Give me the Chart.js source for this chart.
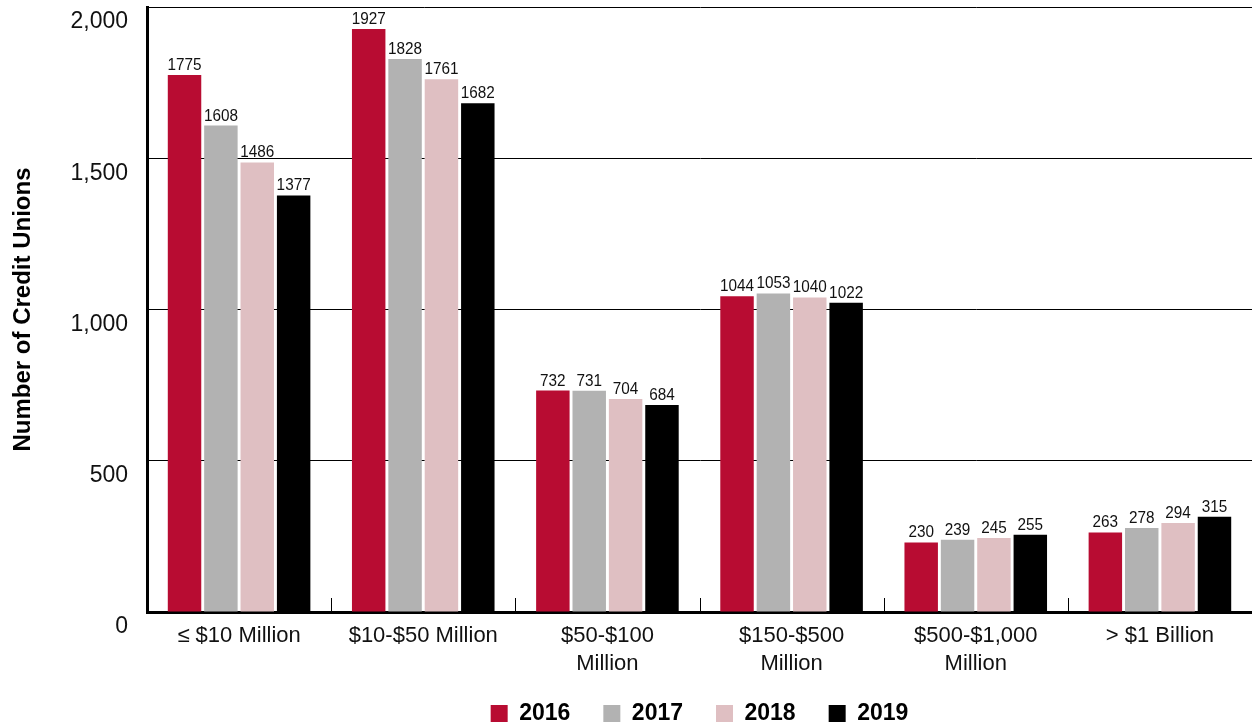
<!DOCTYPE html>
<html>
<head>
<meta charset="utf-8">
<script src="https://cdn.jsdelivr.net/npm/chart.js@4/dist/chart.umd.min.js"></script>
<style>
html,body{margin:0;padding:0;background:#fff;}
#wrap{width:1252px;height:726px;position:relative;}
</style>
</head>
<body>
<div id="wrap"><canvas id="c" width="1252" height="726"></canvas></div>
<script>
const categories = ["≤ $10 Million", "$10-$50 Million", ["$50-$100", "Million"], ["$150-$500", "Million"], ["$500-$1,000", "Million"], "> $1 Billion"];
const years = ["2016", "2017", "2018", "2019"];
const values2016 = [1775, 1927, 732, 1044, 230, 263];
const values2017 = [1608, 1828, 731, 1053, 239, 278];
const values2018 = [1486, 1761, 704, 1040, 245, 294];
const values2019 = [1377, 1682, 684, 1022, 255, 315];
const colors = ["#B80C32", "#B2B2B2", "#DFBFC2", "#000000"];
const yTicks = [0, 500, 1000, 1500, 2000];

const FONT = "'Liberation Sans', Arial, Helvetica, sans-serif";

const valueLabels = {
  id: 'valueLabels',
  afterDatasetsDraw(chart) {
    const ctx = chart.ctx;
    chart.data.datasets.forEach((ds, di) => {
      const meta = chart.getDatasetMeta(di);
      meta.data.forEach((bar, i) => {
        ctx.save();
        ctx.font = "17px " + FONT;
        ctx.fillStyle = "#111";
        ctx.textAlign = "center";
        ctx.textBaseline = "alphabetic";
        ctx.translate(bar.x, bar.y - 5);
        ctx.scale(0.9, 1);
        ctx.fillText(String(ds.data[i]), 0, 0);
        ctx.restore();
      });
    });
  }
};

const catTicks = {
  id: 'catTicks',
  afterDraw(chart) {
    const xs = chart.scales.x;
    const bottom = chart.chartArea.bottom;
    const ctx = chart.ctx;
    ctx.save();
    ctx.strokeStyle = "#000";
    ctx.lineWidth = 1;
    for (let i = 1; i < categories.length; i++) {
      const x = Math.round((xs.getPixelForValue(i - 1) + xs.getPixelForValue(i)) / 2) + 0.5;
      ctx.beginPath();
      ctx.moveTo(x, bottom);
      ctx.lineTo(x, bottom - 14);
      ctx.stroke();
    }
    ctx.restore();
  }
};

const seriesData = [values2016, values2017, values2018, values2019];

new Chart(document.getElementById('c'), {
  type: 'bar',
  data: {
    labels: categories,
    datasets: years.map((y, k) => ({
      label: y,
      data: seriesData[k],
      backgroundColor: colors[k],
      borderWidth: 0,
      categoryPercentage: 0.79,
      barPercentage: 0.92
    }))
  },
  options: {
    responsive: false,
    animation: false,
    devicePixelRatio: 1,
    layout: { padding: { top: 7, right: 0, left: 0, bottom: -9 } },
    plugins: {
      tooltip: { enabled: false },
      legend: {
        position: 'bottom',
        fullSize: false,
        labels: {
          boxWidth: 17,
          boxHeight: 17,
          padding: 33,
          color: "#000",
          font: { family: FONT, size: 23, weight: 'bold' }
        }
      }
    },
    scales: {
      x: {
        grid: { display: false, drawTicks: false },
        border: { display: true, color: "#000", width: 3 },
        ticks: {
          color: "#111",
          padding: 10,
          autoSkip: false,
          maxRotation: 0,
          font: { family: FONT, size: 22, lineHeight: 1.28 }
        },
        afterFit(s) {
          s.height = 57; s.paddingLeft = 0; s.paddingRight = 0;
          s._computeLabelArea = function () { return undefined; };
        }
      },
      y: {
        min: 0,
        max: 2000,
        afterBuildTicks(s) { s.ticks = yTicks.map(v => ({ value: v })); },
        grid: { color: "#000", lineWidth: 1, drawTicks: false },
        border: { display: true, color: "#000", width: 3 },
        ticks: {
          color: "#111",
          padding: 19,
          labelOffset: 15,
          font: { family: FONT, size: 23 },
          callback: v => v.toLocaleString('en-US')
        },
        title: {
          display: true,
          text: "Number of Credit Unions",
          color: "#000",
          padding: { top: 9, bottom: 0 },
          font: { family: FONT, size: 24, weight: 'bold' }
        },
        afterFit(s) { s.width = 147; s.paddingTop = 0; s.paddingBottom = 0; }
      }
    }
  },
  plugins: [valueLabels, catTicks]
});
</script>
</body>
</html>
